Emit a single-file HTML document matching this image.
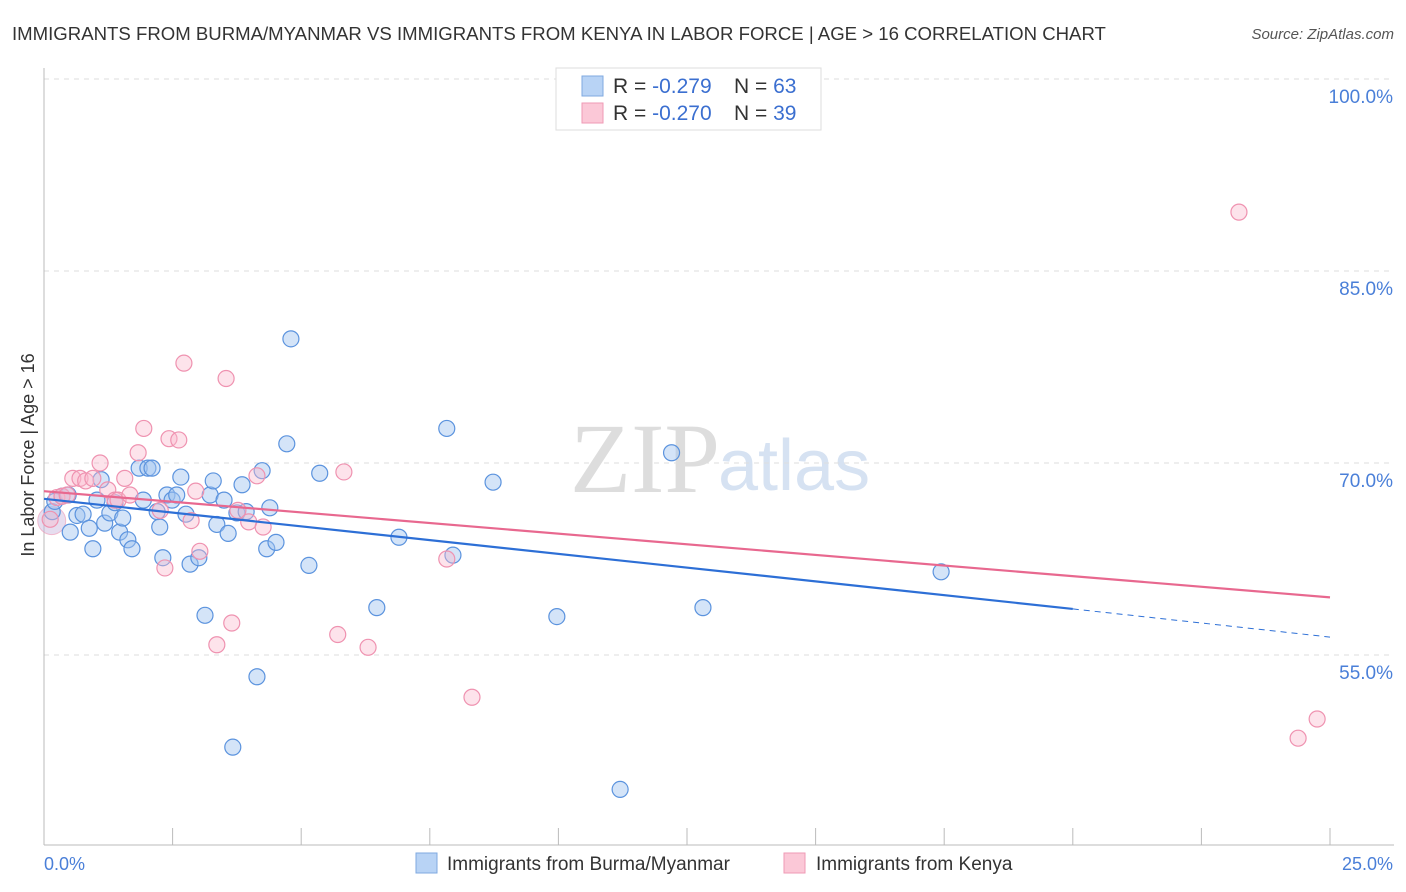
<!DOCTYPE html>
<html><head><meta charset="utf-8">
<style>
body{margin:0;background:#fff;font-family:"Liberation Sans",sans-serif;}
svg{display:block}
</style></head>
<body>
<svg id="chart" width="1406" height="892" xmlns="http://www.w3.org/2000/svg">
<text x="12" y="40" font-size="18.6" fill="#333">IMMIGRANTS FROM BURMA/MYANMAR VS IMMIGRANTS FROM KENYA IN LABOR FORCE | AGE &gt; 16 CORRELATION CHART</text>
<text x="1394" y="39" font-size="15" fill="#555" font-style="italic" text-anchor="end">Source: ZipAtlas.com</text>
<text x="34" y="455" font-size="18" fill="#333" transform="rotate(-90 34 455)" text-anchor="middle">In Labor Force | Age &gt; 16</text>
<text x="720" y="492" font-size="100" fill="#ddd" text-anchor="end" font-family="Liberation Serif,serif">ZIP</text>
<text x="718" y="490" font-size="72" fill="#d6e2f2">atlas</text>
<g id="grid"></g><g id="axes"></g><g id="pts"></g><g id="trends"></g>
<g>
<rect x="556" y="68" width="265" height="62" fill="#fff" stroke="#ddd"/>
<rect x="582" y="76" width="21" height="20" fill="#b8d3f5" stroke="#7fa9e0"/>
<rect x="582" y="103" width="21" height="20" fill="#fbc8d7" stroke="#ef9ab4"/>
<text x="613" y="93" font-size="21" fill="#333">R = <tspan fill="#3b6fd0">-0.279</tspan><tspan x="734">N = </tspan><tspan fill="#3b6fd0">63</tspan></text>
<text x="613" y="120" font-size="21" fill="#333">R = <tspan fill="#3b6fd0">-0.270</tspan><tspan x="734">N = </tspan><tspan fill="#3b6fd0">39</tspan></text>
</g>
<g>
<rect x="416" y="853" width="21" height="20" fill="#b8d3f5" stroke="#7fa9e0"/>
<text x="447" y="870" font-size="19" fill="#333">Immigrants from Burma/Myanmar</text>
<rect x="784" y="853" width="21" height="20" fill="#fbc8d7" stroke="#ef9ab4"/>
<text x="816" y="870" font-size="19" fill="#333">Immigrants from Kenya</text>
</g>
</svg>
<script>
const yTicks=[100,85,70,55];
const yTickLabels=["100.0%","85.0%","70.0%","55.0%"];
const xTickLabels=["0.0%","25.0%"];
const blueX=[0.16,0.21,0.35,0.47,0.51,0.64,0.76,0.88,0.95,1.03,1.11,1.18,1.28,1.38,1.47,1.53,1.63,1.71,1.85,1.93,2.02,2.1,2.2,2.25,2.31,2.39,2.49,2.58,2.66,2.76,2.84,3.01,3.13,3.23,3.29,3.36,3.5,3.58,3.67,3.75,3.85,3.93,4.14,4.24,4.33,4.39,4.51,4.72,4.8,5.15,5.36,6.47,6.9,7.83,7.95,8.73,9.97,12.2,12.81,17.44,11.2];
const blueY=[66.2,67.0,67.4,67.5,64.6,65.9,66.0,64.9,63.3,67.1,68.7,65.3,66.1,66.9,64.6,65.7,64.0,63.3,69.6,67.1,69.6,69.6,66.2,65.0,62.6,67.5,67.1,67.5,68.9,66.0,62.1,62.6,58.1,67.5,68.6,65.2,67.1,64.5,47.8,66.1,68.3,66.2,53.3,69.4,63.3,66.5,63.8,71.5,79.7,62.0,69.2,58.7,64.2,72.7,62.8,68.5,58.0,70.8,58.7,61.5,44.5];
const pinkX=[0.12,0.25,0.35,0.45,0.56,0.7,0.81,0.95,1.09,1.24,1.38,1.44,1.57,1.67,1.83,1.94,2.26,2.35,2.43,2.62,2.72,2.86,2.95,3.03,3.36,3.54,3.65,3.77,3.98,4.14,4.26,5.71,5.83,6.3,7.83,8.32,23.23,24.38,24.75];
const pinkY=[65.6,67.3,67.4,67.5,68.8,68.8,68.6,68.8,70.0,67.9,67.1,67.1,68.8,67.5,70.8,72.7,66.3,61.8,71.9,71.8,77.8,65.5,67.8,63.1,55.8,76.6,57.5,66.3,65.4,69.0,65.0,56.6,69.3,55.6,62.5,51.7,89.6,48.5,50.0];
const blueTrend=[[0,67.2],[20,58.6],[25,56.4]];
const pinkTrend=[[0,67.8],[25,59.5]];
const X=v=>44+v/25*1286, Y=v=>79+(100-v)*12.8;
const NS="http://www.w3.org/2000/svg";
function mk(tag,attrs,parent){const e=document.createElementNS(NS,tag);for(const k in attrs)e.setAttribute(k,attrs[k]);document.getElementById(parent).appendChild(e);return e;}
yTicks.forEach((t,i)=>{
 const l=mk('line',{x1:44,x2:1394,y1:Y(t),y2:Y(t),stroke:'#ddd','stroke-dasharray':'5,5'},'grid');
 
 
 const tx=mk('text',{x:1393,y:Y(t)+24,'font-size':19,fill:'#4a7fd8','text-anchor':'end'},'grid');
 tx.textContent=yTickLabels[i];
 
 
});
mk('line',{x1:44,x2:44,y1:68,y2:845,stroke:'#bbb'},'axes');
mk('line',{x1:44,x2:1394,y1:845,y2:845,stroke:'#bbb'},'axes');
for(let i=1;i<=10;i++){const t=mk('line',{x1:X(i*2.5),x2:X(i*2.5),y1:828,y2:845,stroke:'#bbb'},'axes');
 
 }
const xl0=mk('text',{x:44,y:870,'font-size':18,fill:'#4a7fd8'},'axes');xl0.textContent=xTickLabels[0];


const xl1=mk('text',{x:1393,y:870,'font-size':18,fill:'#4a7fd8','text-anchor':'end'},'axes');xl1.textContent=xTickLabels[1];


mk('circle',{cx:X(0.15),cy:Y(65.5),r:14,fill:'rgba(200,180,220,0.45)',stroke:'rgba(239,150,180,0.6)'},'pts');
blueX.forEach((x,i)=>{const c=mk('circle',{cx:X(x),cy:Y(blueY[i]),r:8,fill:'rgba(160,196,240,0.45)',stroke:'#5b93de','stroke-width':1.2},'pts');
 
 });
pinkX.forEach((x,i)=>{const c=mk('circle',{cx:X(x),cy:Y(pinkY[i]),r:8,fill:'rgba(250,185,205,0.4)',stroke:'#ef92b0','stroke-width':1.2},'pts');
 
 });
const b1=mk('line',{x1:X(blueTrend[0][0]),y1:Y(blueTrend[0][1]),x2:X(blueTrend[1][0]),y2:Y(blueTrend[1][1]),stroke:'#2d6fd6','stroke-width':2.2},'trends');


const b2=mk('line',{x1:X(blueTrend[1][0]),y1:Y(blueTrend[1][1]),x2:X(blueTrend[2][0]),y2:Y(blueTrend[2][1]),stroke:'#2d6fd6','stroke-width':1,'stroke-dasharray':'6,5'},'trends');


const p1=mk('line',{x1:X(pinkTrend[0][0]),y1:Y(pinkTrend[0][1]),x2:X(pinkTrend[1][0]),y2:Y(pinkTrend[1][1]),stroke:'#e8688f','stroke-width':2.2},'trends');


</script>
</body></html>
